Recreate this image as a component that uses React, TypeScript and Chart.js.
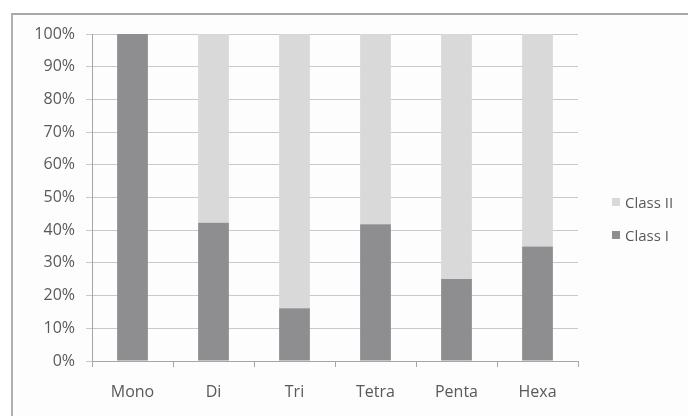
import React, { useEffect, useRef } from "react";
import { Chart, registerables } from "chart.js";

Chart.register(...registerables);

const categories = ["Mono", "Di", "Tri", "Tetra", "Penta", "Hexa"];
const classI = [100, 42.3, 16.1, 41.8, 25.1, 35.0];
const classII = [0, 57.7, 83.9, 58.2, 74.9, 65.0];
const yTicks = [0, 10, 20, 30, 40, 50, 60, 70, 80, 90, 100];
const legendOrder = ["Class II", "Class I"];

const DARK = "#8e8e91";
const LIGHT = "#d9d9da";
const TEXT = "#595959";
const FONT = "'Open Sans', 'DejaVu Sans', sans-serif";

const seriesColor: Record<string, string> = { "Class I": DARK, "Class II": LIGHT };

export default function App() {
  const ref = useRef<HTMLCanvasElement>(null);

  useEffect(() => {
    document.body.style.margin = "0";
    const canvas = ref.current;
    if (!canvas) return;
    const chart = new Chart(canvas, {
      type: "bar",
      data: {
        labels: categories,
        datasets: [
          { label: "Class I", data: classI, backgroundColor: DARK, barPercentage: 0.38, categoryPercentage: 1 },
          { label: "Class II", data: classII, backgroundColor: LIGHT, barPercentage: 0.38, categoryPercentage: 1 },
        ],
      },
      options: {
        animation: false,
        responsive: false,
        layout: { padding: { left: 0, top: 34, right: 110, bottom: 0 } },
        plugins: {
          tooltip: { enabled: false },
          legend: { display: false },
        },
        scales: {
          x: {
            stacked: true,
            afterFit: (s: any) => { s.height = 55; },
            grid: {
              offset: true,
              drawOnChartArea: false,
              drawTicks: true,
              tickLength: 6,
              color: "#a6a6a6",
            },
            border: { color: "#a6a6a6" },
            ticks: { color: TEXT, font: { family: FONT, size: 16 }, padding: 16 },
          },
          y: {
            stacked: true,
            min: 0,
            max: 100,
            afterFit: (s: any) => { s.width = 92; },
            afterBuildTicks: (s: any) => { s.ticks = yTicks.map((v) => ({ value: v })); },
            grid: { color: "#c9c9c9", tickLength: 6 },
            border: { color: "#a6a6a6" },
            ticks: {
              color: TEXT,
              font: { family: FONT, size: 16 },
              padding: 11,
              callback: (v: any) => v + "%",
            },
          },
        },
      },
    });
    return () => chart.destroy();
  }, []);

  return (
    <div style={{ position: "relative", width: 688, height: 416, background: "#fff" }}>
      <div
        style={{
          position: "absolute",
          left: 11,
          top: 13,
          right: 0,
          bottom: 0,
          borderLeft: "2px solid #b0b0b0",
          borderTop: "2px solid #a8a8a8",
          background: "#fdfdfd",
        }}
      />
      <canvas ref={ref} width={688} height={416} style={{ position: "absolute", left: 0, top: 0 }} />
      {legendOrder.map((name, i) => (
        <div
          key={name}
          style={{
            position: "absolute",
            left: 612,
            top: 190 + i * 33,
            height: 23,
            display: "flex",
            alignItems: "center",
            fontFamily: FONT,
            fontSize: 15,
            color: TEXT,
            whiteSpace: "nowrap",
          }}
        >
          <span style={{ display: "inline-block", width: 8, height: 8, background: seriesColor[name], marginRight: 5 }} />
          {name}
        </div>
      ))}
    </div>
  );
}
